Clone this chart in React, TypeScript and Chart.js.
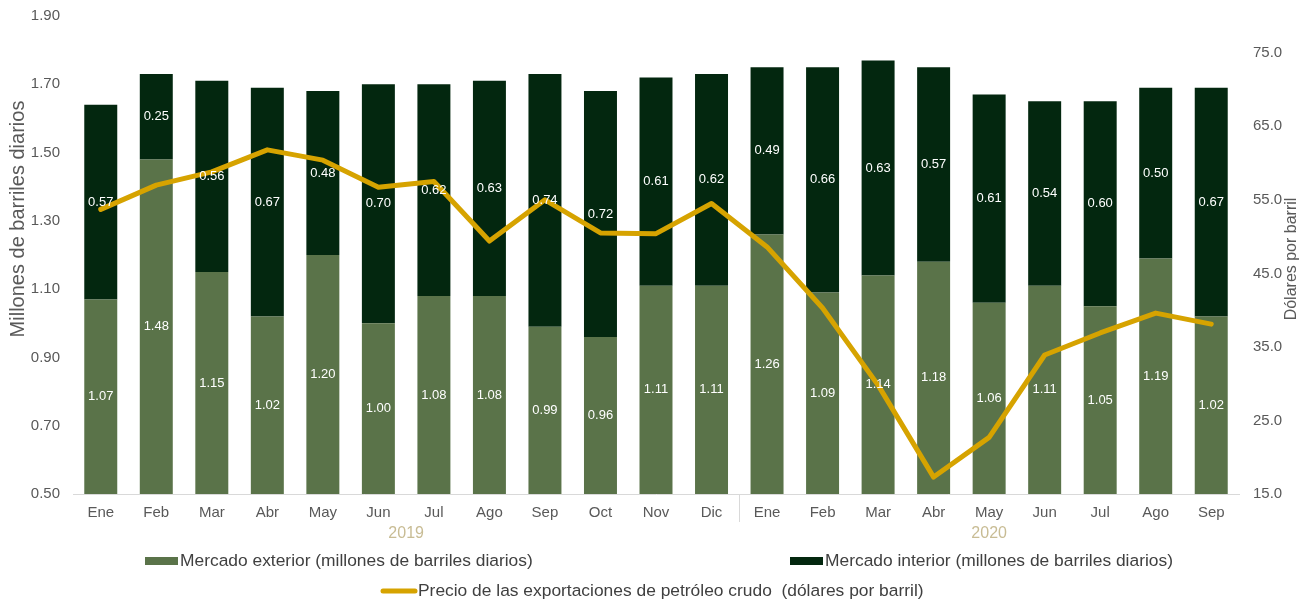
import { useEffect, useRef } from 'react';
import { Chart, registerables } from 'chart.js';

Chart.register(...registerables);

const months = ['Ene', 'Feb', 'Mar', 'Abr', 'May', 'Jun', 'Jul', 'Ago', 'Sep', 'Oct', 'Nov', 'Dic',
  'Ene', 'Feb', 'Mar', 'Abr', 'May', 'Jun', 'Jul', 'Ago', 'Sep'];
const yearLabels = ['2019', '2020'];
const monthsPerYear = [12, 9];

const exterior = [1.07, 1.48, 1.15, 1.02, 1.20, 1.00, 1.08, 1.08, 0.99, 0.96, 1.11, 1.11,
  1.26, 1.09, 1.14, 1.18, 1.06, 1.11, 1.05, 1.19, 1.02];
const interior = [0.57, 0.25, 0.56, 0.67, 0.48, 0.70, 0.62, 0.63, 0.74, 0.72, 0.61, 0.62,
  0.49, 0.66, 0.63, 0.57, 0.61, 0.54, 0.60, 0.50, 0.67];
const price = [53.7, 57.0, 58.8, 61.8, 60.4, 56.7, 57.5, 49.4, 55.0, 50.5, 50.4, 54.5,
  48.6, 40.3, 29.8, 17.3, 22.7, 33.9, 36.9, 39.6, 38.1];

const leftTicks = [0.5, 0.7, 0.9, 1.1, 1.3, 1.5, 1.7, 1.9];
const rightTicks = [15, 25, 35, 45, 55, 65, 75];

const seriesNames = [
  'Mercado exterior (millones de barriles diarios)',
  'Mercado interior (millones de barriles diarios)',
  'Precio de las exportaciones de petróleo crudo  (dólares por barril)',
];
const leftTitle = 'Millones de barriles diarios';
const rightTitle = 'Dólares por barril';

const C_EXT = '#5a7349';
const C_INT = '#03270f';
const C_LINE = '#d6a300';
const C_TEXT = '#595959';
const C_YEAR = '#c8bc94';
const FONT = '"Liberation Sans", Arial, sans-serif';

const overlayPlugin = {
  id: 'overlay',
  afterDatasetsDraw(chart: any) {
    const ctx = chart.ctx;
    const area = chart.chartArea;
    ctx.save();
    ctx.fillStyle = '#ffffff';
    ctx.font = `13px ${FONT}`;
    ctx.textAlign = 'center';
    ctx.textBaseline = 'middle';
    [0, 1].forEach((di) => {
      const meta = chart.getDatasetMeta(di);
      const vals = chart.data.datasets[di].data as number[];
      meta.data.forEach((bar: any, i: number) => {
        const p = bar.getProps(['x', 'y', 'base'], true);
        const base = Math.min(p.base, area.bottom);
        const top = Math.max(p.y, area.top);
        ctx.fillText(vals[i].toFixed(2), p.x, (top + base) / 2);
      });
    });
    ctx.restore();
  },
  afterDraw(chart: any) {
    const ctx = chart.ctx;
    const area = chart.chartArea;
    const xs = chart.scales.x;
    ctx.save();
    let start = 0;
    monthsPerYear.forEach((n, yi) => {
      const x0 = xs.getPixelForValue(start);
      const x1 = xs.getPixelForValue(start + n - 1);
      ctx.fillStyle = C_YEAR;
      ctx.font = `16px ${FONT}`;
      ctx.textAlign = 'center';
      ctx.textBaseline = 'middle';
      ctx.fillText(yearLabels[yi], (x0 + x1) / 2, area.bottom + 40);
      if (yi > 0) {
        const sx = (xs.getPixelForValue(start - 1) + x0) / 2;
        ctx.strokeStyle = '#d9d9d9';
        ctx.lineWidth = 1;
        ctx.beginPath();
        ctx.moveTo(Math.round(sx) + 0.5, area.bottom);
        ctx.lineTo(Math.round(sx) + 0.5, area.bottom + 28);
        ctx.stroke();
      }
      start += n;
    });
    ctx.fillStyle = C_TEXT;
    ctx.textAlign = 'center';
    ctx.textBaseline = 'middle';
    ctx.save();
    ctx.translate(18, 219);
    ctx.rotate(-Math.PI / 2);
    ctx.font = `20px ${FONT}`;
    ctx.fillText(leftTitle, 0, 0);
    ctx.restore();
    ctx.save();
    ctx.translate(1292, 259);
    ctx.rotate(-Math.PI / 2);
    ctx.font = `16px ${FONT}`;
    ctx.fillText(rightTitle, 0, 0);
    ctx.restore();
    ctx.font = `17.4px ${FONT}`;
    ctx.textAlign = 'left';
    ctx.textBaseline = 'middle';
    const row1 = area.bottom + 67;
    const row2 = area.bottom + 97;
    ctx.fillStyle = C_EXT;
    ctx.fillRect(145, row1 - 4, 33, 8);
    ctx.fillStyle = '#404040';
    ctx.fillText(seriesNames[0], 180, row1);
    ctx.fillStyle = C_INT;
    ctx.fillRect(790, row1 - 4, 33, 8);
    ctx.fillStyle = '#404040';
    ctx.fillText(seriesNames[1], 825, row1);
    ctx.strokeStyle = C_LINE;
    ctx.lineWidth = 5;
    ctx.lineCap = 'round';
    ctx.beginPath();
    ctx.moveTo(383, row2);
    ctx.lineTo(415, row2);
    ctx.stroke();
    ctx.fillText(seriesNames[2], 418, row2);
    ctx.restore();
  },
};

export default function App() {
  const ref = useRef<HTMLCanvasElement | null>(null);
  useEffect(() => {
    if (!ref.current) return;
    const chart = new Chart(ref.current, {
      type: 'bar',
      data: {
        labels: months,
        datasets: [
          {
            type: 'bar',
            label: seriesNames[0],
            data: exterior,
            backgroundColor: C_EXT,
            yAxisID: 'y',
            stack: 's',
            order: 1,
            barPercentage: 0.594,
            categoryPercentage: 1,
          },
          {
            type: 'bar',
            label: seriesNames[1],
            data: interior,
            backgroundColor: C_INT,
            yAxisID: 'y',
            stack: 's',
            order: 1,
            barPercentage: 0.594,
            categoryPercentage: 1,
          },
          {
            type: 'line',
            label: seriesNames[2],
            data: price,
            borderColor: C_LINE,
            backgroundColor: C_LINE,
            borderWidth: 5,
            pointRadius: 0,
            tension: 0,
            borderJoinStyle: 'round',
            borderCapStyle: 'round',
            yAxisID: 'y1',
            order: 0,
          } as any,
        ],
      },
      options: {
        animation: false,
        responsive: true,
        maintainAspectRatio: false,
        layout: { padding: { top: 16, left: 0, right: 0, bottom: 0 } },
        plugins: { legend: { display: false }, tooltip: { enabled: false } },
        scales: {
          x: {
            stacked: true,
            grid: { display: false, drawTicks: false },
            border: { display: true, color: '#d9d9d9', width: 1 },
            ticks: { color: C_TEXT, font: { size: 15, family: FONT }, padding: 10, maxRotation: 0, autoSkip: false },
            afterFit: (s: any) => { s.height = 105; s.paddingLeft = 0; s.paddingRight = 0; },
          },
          y: {
            stacked: true,
            position: 'left',
            min: 0.5,
            max: 1.9,
            grid: { display: false, drawTicks: false },
            border: { display: false },
            afterBuildTicks: (s: any) => { s.ticks = leftTicks.map((v) => ({ value: v })); },
            ticks: { color: C_TEXT, font: { size: 15, family: FONT }, padding: 13, callback: (v: any) => Number(v).toFixed(2) },
            afterFit: (s: any) => { s.width = 73; s.paddingTop = 0; s.paddingBottom = 0; },
          },
          y1: {
            position: 'right',
            min: 15,
            max: 80,
            grid: { display: false, drawTicks: false },
            border: { display: false },
            afterBuildTicks: (s: any) => { s.ticks = rightTicks.map((v) => ({ value: v })); },
            ticks: { color: C_TEXT, font: { size: 15, family: FONT }, padding: 14, callback: (v: any) => Number(v).toFixed(1) },
            afterFit: (s: any) => { s.width = 69; s.paddingTop = 0; s.paddingBottom = 0; },
          },
        },
      },
      plugins: [overlayPlugin],
    });
    return () => chart.destroy();
  }, []);
  return (
    <div style={{ position: 'fixed', left: 0, top: 0, width: 1308, height: 599, background: '#fff' }}>
      <canvas ref={ref} />
    </div>
  );
}
